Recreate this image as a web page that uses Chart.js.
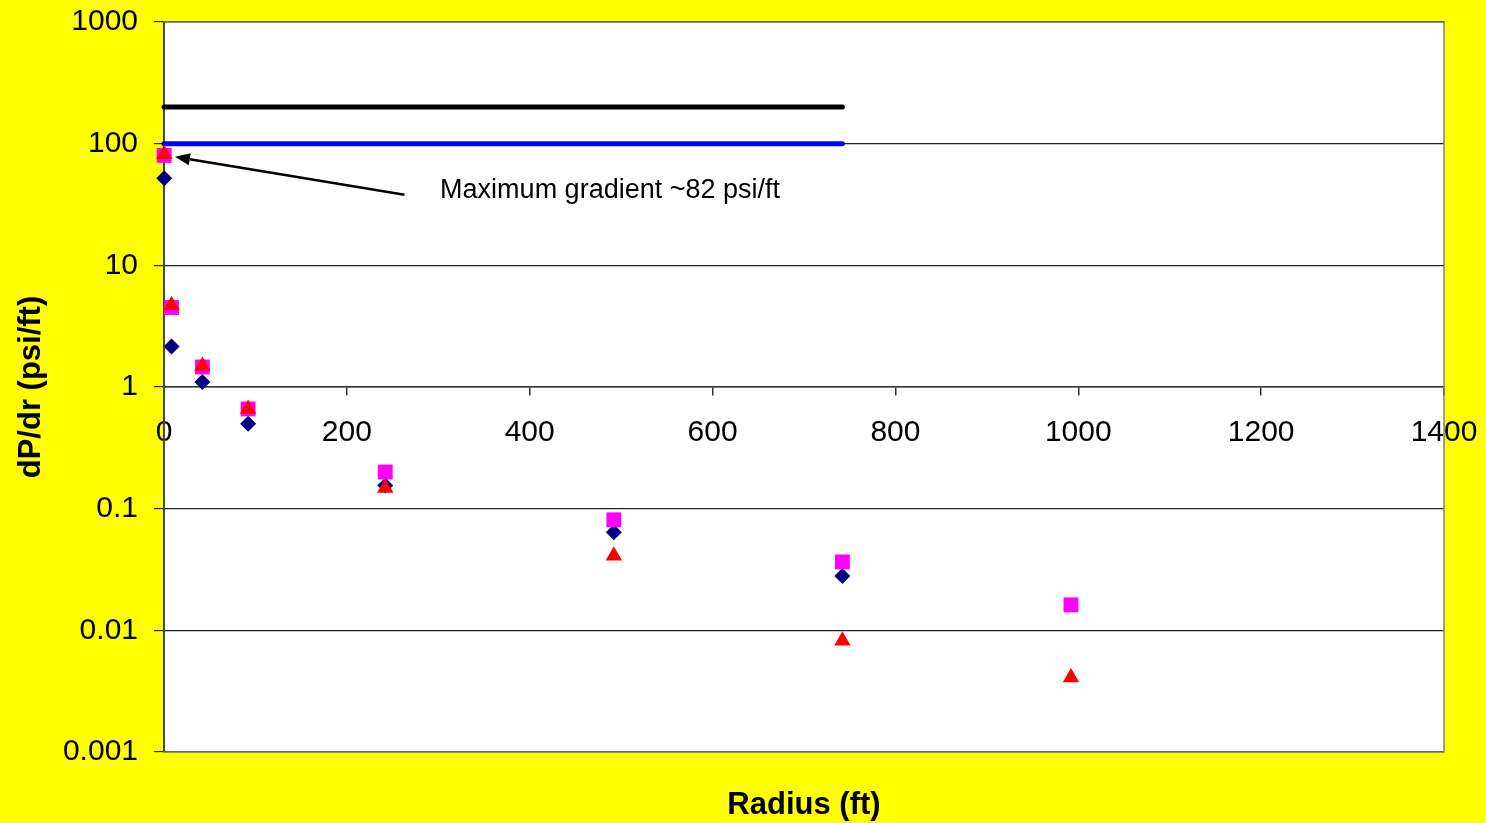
<!DOCTYPE html>
<html>
<head>
<meta charset="utf-8">
<script src="https://cdn.jsdelivr.net/npm/chart.js@4/dist/chart.umd.min.js"></script>
<style>
  html, body { margin: 0; padding: 0; background: #ffff00; }
  #myChart { display: block; }
</style>
</head>
<body>
<canvas id="myChart" width="1486" height="823"></canvas>
<script>
//data.....................
var radius = [0.25, 8.25, 42, 92, 242, 492, 742, 992];
var gradDiamond = [52, 2.15, 1.1, 0.5, 0.155, 0.064, 0.028, null];
var gradSquare = [80, 4.5, 1.46, 0.66, 0.2, 0.081, 0.0365, 0.0162];
var gradTriangle = [82, 4.7, 1.49, 0.66, 0.148, 0.041, 0.0082, 0.0041];

var limitX = [0, 742];
var upperLimit = [200, 200];
var lowerLimit = [100, 100];

var yTicks = [1000, 100, 10, 1, 0.1, 0.01, 0.001];
var xTicks = [0, 200, 400, 600, 800, 1000, 1200, 1400];

// annotation, in data units
var noteText = "Maximum gradient ~82 psi/ft";
var noteTip = { x: 12, y: 78 };
var noteTail = { x: 263, y: 38 };
var noteLabel = { x: 302, y: 41 };

function toPoints(xs, ys) {
  var pts = [];
  for (var i = 0; i < xs.length; i++) {
    if (ys[i] !== null) pts.push({ x: xs[i], y: ys[i] });
  }
  return pts;
}

var FONT = "'Liberation Sans', Arial, sans-serif";

// keep tick labels from pushing the plot area around
function noPadding(s) {
  s.paddingLeft = 0;
  s.paddingRight = 0;
  s.paddingTop = 0;
  s.paddingBottom = 0;
}

//plot background, frame, arrow and x title...............
var extras = {
  id: "extras",
  beforeDraw: function (chart) {
    var a = chart.chartArea, ctx = chart.ctx;
    ctx.save();
    ctx.fillStyle = "#ffff00";
    ctx.fillRect(0, 0, chart.width, chart.height);
    ctx.fillStyle = "#ffffff";
    ctx.fillRect(a.left, a.top, a.right - a.left, a.bottom - a.top);
    ctx.restore();
  },
  beforeDatasetsDraw: function (chart) {
    var a = chart.chartArea, ctx = chart.ctx;
    ctx.save();
    ctx.strokeStyle = "#808080";
    ctx.lineWidth = 1.5;
    ctx.strokeRect(a.left, a.top, a.right - a.left, a.bottom - a.top);
    ctx.strokeStyle = "#333333";
    ctx.beginPath();
    ctx.moveTo(a.left, a.top);
    ctx.lineTo(a.left, a.bottom);
    ctx.stroke();
    ctx.restore();
  },
  afterDraw: function (chart) {
    var a = chart.chartArea, ctx = chart.ctx;
    var xs = chart.scales.x, ys = chart.scales.y;
    var tx = xs.getPixelForValue(noteTip.x), ty = ys.getPixelForValue(noteTip.y);
    var sx = xs.getPixelForValue(noteTail.x), sy = ys.getPixelForValue(noteTail.y);
    var ang = Math.atan2(ty - sy, tx - sx);
    var hl = 15, hw = 6;
    var bx = tx - hl * Math.cos(ang), by = ty - hl * Math.sin(ang);
    ctx.save();
    ctx.strokeStyle = "#000";
    ctx.fillStyle = "#000";
    ctx.lineWidth = 2.5;
    ctx.beginPath();
    ctx.moveTo(sx, sy);
    ctx.lineTo(bx, by);
    ctx.stroke();
    ctx.beginPath();
    ctx.moveTo(tx, ty);
    ctx.lineTo(bx + hw * Math.sin(ang), by - hw * Math.cos(ang));
    ctx.lineTo(bx - hw * Math.sin(ang), by + hw * Math.cos(ang));
    ctx.closePath();
    ctx.fill();

    ctx.font = "27px " + FONT;
    ctx.textAlign = "left";
    ctx.textBaseline = "middle";
    ctx.fillText(noteText, xs.getPixelForValue(noteLabel.x), ys.getPixelForValue(noteLabel.y));

    ctx.font = "bold 31px " + FONT;
    ctx.textAlign = "center";
    ctx.fillText("Radius (ft)", (a.left + a.right) / 2, 805);
    ctx.restore();
  }
};

new Chart("myChart", {
  type: "scatter",
  data: {
    datasets: [{
      label: "Triangle",
      data: toPoints(radius, gradTriangle),
      pointStyle: "triangle",
      pointRadius: 9.5,
      backgroundColor: "#ff0000",
      borderColor: "#ff0000",
      borderWidth: 0,
      clip: false,
      order: 1
    }, {
      label: "Square",
      data: toPoints(radius, gradSquare),
      pointStyle: "rect",
      pointRadius: 10.5,
      backgroundColor: "#ff00ff",
      borderColor: "#ff00ff",
      borderWidth: 0,
      clip: false,
      order: 2
    }, {
      label: "Diamond",
      data: toPoints(radius, gradDiamond),
      pointStyle: "rectRot",
      pointRadius: 8,
      backgroundColor: "#000080",
      borderColor: "#000080",
      borderWidth: 0,
      clip: false,
      order: 3
    }, {
      label: "Upper",
      type: "line",
      data: toPoints(limitX, upperLimit),
      borderColor: "#000000",
      borderWidth: 5,
      borderCapStyle: "round",
      pointRadius: 0,
      clip: false,
      order: 4
    }, {
      label: "Lower",
      type: "line",
      data: toPoints(limitX, lowerLimit),
      borderColor: "#0000ff",
      borderWidth: 5,
      borderCapStyle: "round",
      pointRadius: 0,
      clip: false,
      order: 4
    }]
  },
  options: {
    responsive: false,
    devicePixelRatio: 1,
    animation: false,
    layout: {
      padding: { top: 22, right: 42, bottom: 71, left: 0 }
    },
    plugins: {
      legend: { display: false },
      tooltip: { enabled: false }
    },
    scales: {
      x: {
        type: "linear",
        position: { y: 1 },
        min: 0,
        max: 1400,
        afterBuildTicks: function (s) {
          s.ticks = xTicks.map(function (v) { return { value: v }; });
        },
        afterFit: noPadding,
        ticks: {
          color: "#000",
          font: { family: FONT, size: 30 },
          padding: 20,
          maxRotation: 0,
          autoSkip: false,
          callback: function (v) { return String(v); }
        },
        grid: {
          drawOnChartArea: false,
          drawTicks: true,
          tickLength: 8,
          color: "#333333",
          lineWidth: 1.5
        },
        border: { display: true, color: "#333333", width: 1.5 }
      },
      y: {
        type: "logarithmic",
        position: "left",
        min: 0.001,
        max: 1000,
        afterBuildTicks: function (s) {
          s.ticks = yTicks.map(function (v) { return { value: v }; });
        },
        afterFit: function (s) {
          s.width = 164;
          noPadding(s);
        },
        ticks: {
          color: "#000",
          font: { family: FONT, size: 30 },
          padding: 16,
          autoSkip: false,
          callback: function (v) { return String(v); }
        },
        grid: {
          color: "#222222",
          lineWidth: 1.2,
          tickLength: 10
        },
        border: { display: true, color: "#333333", width: 1.5 },
        title: {
          display: true,
          text: "dP/dr (psi/ft)",
          color: "#000",
          font: { family: FONT, size: 31, weight: "bold" },
          padding: { top: 13, bottom: 0 }
        }
      }
    }
  },
  plugins: [extras]
});
</script>
</body>
</html>
